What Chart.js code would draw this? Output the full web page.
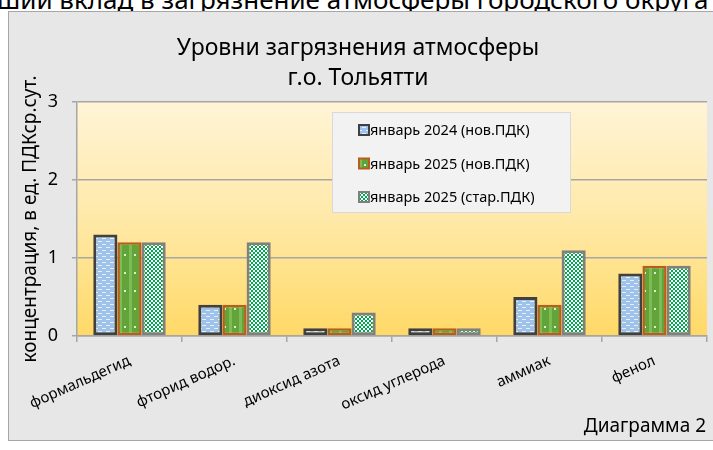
<!DOCTYPE html>
<html>
<head>
<meta charset="utf-8">
<script src="https://cdn.jsdelivr.net/npm/chart.js@4.4.1/dist/chart.umd.min.js"></script>
<style>
  html, body { margin: 0; padding: 0; background: #fff; width: 713px; height: 450px; overflow: hidden; }
  #caption {
    position: absolute; left: -3px; top: -19px; white-space: nowrap;
    font: 26px "Noto Sans", sans-serif; color: #000;
  }
  #box {
    position: absolute; left: 8px; top: 11px; width: 712px; height: 428px;
    background: #e7e7e7; border: 1px solid #a6a6a6;
  }
  #chartWrap { position: absolute; left: 0; top: 0; width: 704px; height: 427px; }
</style>
</head>
<body>
<div id="caption">ший вклад в загрязнение атмосферы городского округа</div>
<div id="box">
  <div id="chartWrap"><canvas id="pollutionChart"></canvas></div>
</div>
<script>
// данные с диаграммы
const substances = ['формальдегид', 'фторид водор.', 'диоксид азота', 'оксид углерода', 'аммиак', 'фенол'];
const jan2024New = [1.3, 0.4, 0.1, 0.1, 0.5, 0.8];
const jan2025New = [1.2, 0.4, 0.1, 0.1, 0.4, 0.9];
const jan2025Old = [1.2, 1.2, 0.3, 0.1, 1.1, 0.9];
const seriesNames = ['январь 2024 (нов.ПДК)', 'январь 2025 (нов.ПДК)', 'январь 2025 (стар.ПДК)'];
const yTicks = [0, 1, 2, 3];

const FONT = '"Noto Sans", sans-serif';

function makePattern(w, h, draw) {
    const c = document.createElement('canvas');
    c.width = w; c.height = h;
    const g = c.getContext('2d');
    draw(g);
    return g.createPattern(c, 'repeat');
}

// голубой с белыми штрихами
const bluePattern = makePattern(8, 6, g => {
    g.fillStyle = '#9fc2ea';
    g.fillRect(0, 0, 8, 6);
    g.fillStyle = '#e4efff';
    g.fillRect(1, 1, 4, 1);
    g.fillRect(5, 4, 3, 1);
    g.fillRect(0, 4, 1, 1);
});

// зелёный с редкими точками
const greenPattern = makePattern(10, 18, g => {
    g.fillStyle = '#62a33a';
    g.fillRect(0, 0, 10, 18);
    g.fillStyle = '#7dbb55';
    g.fillRect(0, 0, 3, 18);
    g.fillStyle = '#d9f0c8';
    g.fillRect(5, 8, 2, 2);
});

// зелёно-белая клетка
const checkPattern = makePattern(4, 4, g => {
    g.fillStyle = '#ffffff';
    g.fillRect(0, 0, 4, 4);
    g.fillStyle = '#00a651';
    g.fillRect(0, 0, 2, 2);
    g.fillRect(2, 2, 2, 2);
});

const plotBackground = {
    id: 'plotBackground',
    beforeDraw(chart) {
        const { ctx, chartArea: a } = chart;
        const grad = ctx.createLinearGradient(0, a.top, 0, a.bottom);
        grad.addColorStop(0, '#fff4d6');
        grad.addColorStop(0.5, '#ffe9a8');
        grad.addColorStop(1, '#ffd966');
        ctx.save();
        ctx.fillStyle = grad;
        ctx.fillRect(a.left, a.top, a.right - a.left, a.bottom - a.top);
        ctx.restore();
    }
};

const insideLegend = {
    id: 'insideLegend',
    afterDraw(chart) {
        const ctx = chart.ctx;
        const x = 323, y = 100, w = 239, h = 101;
        ctx.save();
        ctx.fillStyle = '#f2f2f2';
        ctx.fillRect(x, y, w, h);
        ctx.strokeStyle = '#d9d9d9';
        ctx.lineWidth = 1;
        ctx.strokeRect(x + 0.5, y + 0.5, w - 1, h - 1);
        ctx.font = '14.5px ' + FONT;
        ctx.textBaseline = 'middle';
        chart.data.datasets.forEach((ds, i) => {
            const cy = 118 + i * 33.5;
            ctx.fillStyle = ds.backgroundColor;
            ctx.fillRect(350, cy - 5, 10, 10);
            ctx.strokeStyle = ds.borderColor;
            ctx.lineWidth = 2;
            ctx.strokeRect(350, cy - 5, 10, 10);
            ctx.fillStyle = '#000';
            ctx.fillText(ds.label, 361, cy + 1);
        });
        ctx.restore();
    }
};

const footNote = {
    id: 'footNote',
    afterDraw(chart) {
        const ctx = chart.ctx;
        ctx.save();
        ctx.font = '19px ' + FONT;
        ctx.fillStyle = '#000';
        ctx.textAlign = 'right';
        ctx.textBaseline = 'middle';
        ctx.fillText('Диаграмма 2', 697, 415);
        ctx.restore();
    }
};

const ctx = document.getElementById('pollutionChart').getContext('2d');

new Chart(ctx, {
    type: 'bar',
    data: {
        labels: substances,
        datasets: [
            {
                label: seriesNames[0],
                data: jan2024New,
                backgroundColor: bluePattern,
                borderColor: '#404040',
                borderWidth: 3
            },
            {
                label: seriesNames[1],
                data: jan2025New,
                backgroundColor: greenPattern,
                borderColor: '#b85d1e',
                borderWidth: 2.5
            },
            {
                label: seriesNames[2],
                data: jan2025Old,
                backgroundColor: checkPattern,
                borderColor: '#808080',
                borderWidth: 3
            }
        ]
    },
    options: {
        responsive: true,
        maintainAspectRatio: false,
        animation: false,
        layout: { padding: { left: 0, right: 6, top: 0, bottom: 0 } },
        datasets: {
            bar: { categoryPercentage: 0.69, barPercentage: 1.0, borderSkipped: false }
        },
        scales: {
            x: {
                afterFit: scale => {
                    scale.height = 103;
                    scale.paddingLeft = 0;
                    scale.paddingRight = 0;
                },
                grid: {
                    offset: true,
                    drawOnChartArea: false,
                    color: '#a6a6a6',
                    lineWidth: 1.5,
                    tickLength: 6
                },
                border: { color: '#a6a6a6', width: 1.5 },
                ticks: {
                    color: '#000',
                    font: { family: FONT, size: 15 },
                    minRotation: 24,
                    maxRotation: 24,
                    padding: 10,
                    autoSkip: false
                }
            },
            y: {
                min: 0,
                max: 3,
                afterFit: scale => { scale.width = 68; },
                afterBuildTicks: scale => { scale.ticks = yTicks.map(v => ({ value: v })); },
                grid: { color: '#a6a6a6', lineWidth: 1.5, tickLength: 5 },
                border: { color: '#a6a6a6', width: 1.5 },
                ticks: {
                    color: '#000',
                    font: { family: FONT, size: 18 },
                    padding: 14
                },
                title: {
                    display: true,
                    text: 'концентрация, в ед. ПДКср.сут.',
                    color: '#000',
                    font: { family: FONT, size: 19 },
                    padding: { top: 10, bottom: 0 }
                }
            }
        },
        plugins: {
            legend: { display: false },
            tooltip: { enabled: false },
            title: {
                display: true,
                text: ['Уровни загрязнения атмосферы', 'г.о. Тольятти'],
                color: '#000',
                font: { family: FONT, size: 23, weight: 'normal', lineHeight: 1.3 },
                padding: { top: 22, bottom: 8 }
            }
        }
    },
    plugins: [plotBackground, insideLegend, footNote]
});
</script>
</body>
</html>
